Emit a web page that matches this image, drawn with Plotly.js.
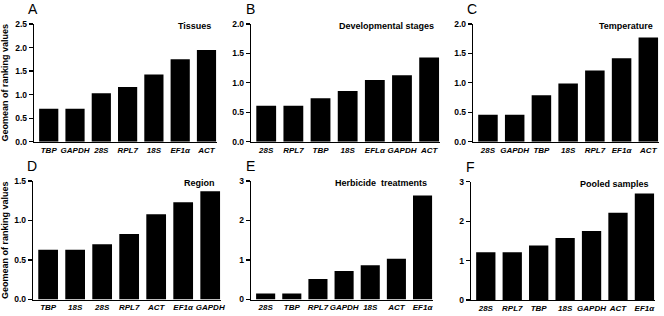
<!DOCTYPE html>
<html>
<head>
<meta charset="utf-8">
<script src="https://cdn.plot.ly/plotly-3.0.1.min.js"></script>
<style>html,body{margin:0;padding:0;background:#fff;}#chart{width:664px;height:316px;}</style>
</head>
<body>
<div id="chart"></div>
<script>
// Data
const catsA = ['TBP','GAPDH','28S','RPL7','18S','EF1α','ACT'];
const valsA = [0.70,0.70,1.03,1.16,1.43,1.75,1.95];
const catsB = ['28S','RPL7','TBP','18S','EFLα','GAPDH','ACT'];
const valsB = [0.61,0.61,0.74,0.86,1.05,1.13,1.43];
const catsC = ['28S','GAPDH','TBP','18S','RPL7','EF1α','ACT'];
const valsC = [0.46,0.46,0.79,0.99,1.21,1.42,1.77];
const catsD = ['TBP','18S','28S','RPL7','ACT','EF1α','GAPDH'];
const valsD = [0.63,0.63,0.70,0.83,1.08,1.23,1.37];
const catsE = ['28S','TBP','RPL7','GAPDH','18S','ACT','EF1α'];
const valsE = [0.15,0.15,0.52,0.72,0.87,1.03,2.63];
const catsF = ['28S','RPL7','TBP','18S','GAPDH','ACT','EF1α'];
const valsF = [1.21,1.21,1.38,1.57,1.75,2.21,2.70];
const panelLetters = ['A','B','C','D','E','F'];
const panelTitles = ['Tissues','Developmental stages','Temperature','Region','Herbicide  treatments','Pooled samples'];
const yTitle = 'Geomean of ranking values';

const W = 664, H = 316;
const panels = [
  {cats: catsA, vals: valsA, x0: 34, x1: 217, top: 24, bot: 141.7, ymax: 2.5, dtick: 0.5, fmt: '.1f'},
  {cats: catsB, vals: valsB, x0: 251, x1: 440, top: 24, bot: 141.7, ymax: 2.0, dtick: 0.5, fmt: '.1f'},
  {cats: catsC, vals: valsC, x0: 473, x1: 659, top: 24, bot: 141.7, ymax: 2.0, dtick: 0.5, fmt: '.1f'},
  {cats: catsD, vals: valsD, x0: 33, x1: 221, top: 181, bot: 299.5, ymax: 1.5, dtick: 0.5, fmt: '.1f'},
  {cats: catsE, vals: valsE, x0: 251, x1: 433, top: 181, bot: 299.5, ymax: 3, dtick: 1, fmt: '.0f'},
  {cats: catsF, vals: valsF, x0: 471, x1: 655, top: 181.7, bot: 300, ymax: 3, dtick: 1, fmt: '.0f'}
];

const FONT = 'Liberation Sans, Arial, sans-serif';
const traces = [];
const layout = {
  width: W, height: H,
  margin: {l: 0, r: 0, t: 0, b: 0},
  paper_bgcolor: '#fff', plot_bgcolor: '#fff',
  showlegend: false,
  bargap: 0.27,
  font: {family: FONT, color: '#000'},
  annotations: []
};

panels.forEach((p, i) => {
  const n = i === 0 ? '' : String(i + 1);
  traces.push({
    type: 'bar', x: p.cats, y: p.vals,
    xaxis: 'x' + n, yaxis: 'y' + n,
    marker: {color: '#000', line: {width: 0}},
    hoverinfo: 'x+y'
  });
  layout['xaxis' + n] = {
    domain: [p.x0 / W, p.x1 / W],
    anchor: 'y' + n,
    type: 'category',
    range: [-0.56, 6.40],
    showline: true, linecolor: '#000', linewidth: 1.3,
    ticks: '',
    tickangle: 0,
    showgrid: false, zeroline: false,
    tickfont: {family: FONT, size: 8, weight: 'bold', style: 'italic', color: '#000'},
    fixedrange: true
  };
  layout['yaxis' + n] = {
    domain: [1 - p.bot / H, 1 - p.top / H],
    anchor: 'x' + n,
    range: [0, p.ymax],
    dtick: p.dtick, tick0: 0, tickformat: p.fmt,
    showline: true, linecolor: '#000', linewidth: 1.3,
    ticks: 'outside', ticklen: 4, tickwidth: 1.2, tickcolor: '#000',
    showgrid: false, zeroline: false,
    tickfont: {family: FONT, size: 8.5, weight: 'bold', color: '#000'},
    fixedrange: true
  };
  if (i === 0 || i === 3) {
    layout['yaxis' + n].title = {text: yTitle, font: {family: FONT, size: 9, weight: 'bold', color: '#000'}, standoff: 8};
  }
  layout.annotations.push({
    xref: 'paper', yref: 'paper', x: (p.x0 - 1) / W, y: 1 - (p.top - 15) / H,
    xanchor: 'center', yanchor: 'middle', showarrow: false,
    text: panelLetters[i], font: {family: FONT, size: 14, color: '#000'}
  });
  layout.annotations.push({
    xref: 'paper', yref: 'paper', x: (p.x1 - 4) / W, y: 1 - (p.top + 2) / H,
    xanchor: 'right', yanchor: 'middle', showarrow: false,
    text: panelTitles[i], font: {family: FONT, size: 9, weight: 'bold', color: '#000'}
  });
});

Plotly.newPlot('chart', traces, layout, {displayModeBar: false, staticPlot: true});
</script>
</body>
</html>
